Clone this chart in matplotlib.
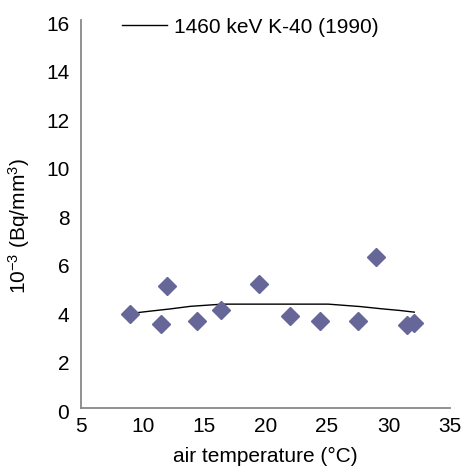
import matplotlib
matplotlib.use("Agg")
import matplotlib.pyplot as plt
import matplotlib.transforms as mtransforms

plt.rcParams["font.family"] = ["Liberation Sans", "DejaVu Sans"]
plt.rcParams["mathtext.fontset"] = "custom"
plt.rcParams["mathtext.rm"] = "Liberation Sans"
plt.rcParams["mathtext.it"] = "Liberation Sans"

# measured K-40 activity vs air temperature
temp = [9.0, 11.5, 12.0, 14.4, 16.4, 19.5, 22.0, 24.4, 27.5, 29.0, 31.5, 32.1]
activity = [3.90, 3.49, 5.03, 3.59, 4.04, 5.11, 3.81, 3.59, 3.59, 6.24, 3.42, 3.52]

# 1460 keV K-40 (1990) reference curve
ref_temp = [8.9, 10.6, 12.2, 13.9, 16.5, 25.1, 27.7, 29.4, 30.9, 32.1]
ref_act = [3.90, 4.00, 4.09, 4.20, 4.29, 4.29, 4.19, 4.10, 4.03, 3.96]

fig = plt.figure(figsize=(4.61, 4.66), dpi=100)
ax = fig.add_axes([0.176, 0.124, 0.800, 0.833])

ax.plot(ref_temp, ref_act, color="black", linewidth=1.0, label="1460 keV K-40 (1990)")
ax.plot(temp, activity, linestyle="none", marker="D", markersize=9.6,
        color="#666699", markeredgecolor="#666699")

ax.set_xlim(5, 35)
ax.set_ylim(0, 16)
ax.set_xticks(range(5, 36, 5))
ax.set_yticks(range(0, 17, 2))
ax.tick_params(length=0, labelsize=15)
ax.tick_params(axis="y", pad=8.5)
ax.tick_params(axis="x", pad=6)

# y tick labels sit a little below their values in the original
shift = mtransforms.ScaledTranslation(0, -3 / 100, fig.dpi_scale_trans)
for lbl in ax.get_yticklabels():
    lbl.set_transform(lbl.get_transform() + shift)

for side in ("top", "right"):
    ax.spines[side].set_visible(False)
for side in ("left", "bottom"):
    ax.spines[side].set_color("#888888")
    ax.spines[side].set_linewidth(1.3)

ax.set_xlabel("air temperature (°C)", fontsize=15)
ax.xaxis.set_label_coords(0.5, -0.10)
ax.set_ylabel(r"10$^{-3}$ (Bq/mm$^{3}$)", fontsize=15)
ax.yaxis.set_label_coords(-0.132, 0.469)

ax.legend(loc="center", bbox_to_anchor=(0.459, 0.982), frameon=False,
          fontsize=15, handlelength=2.16, handletextpad=0.3)

fig.savefig("out.png", dpi=100, facecolor="white")
